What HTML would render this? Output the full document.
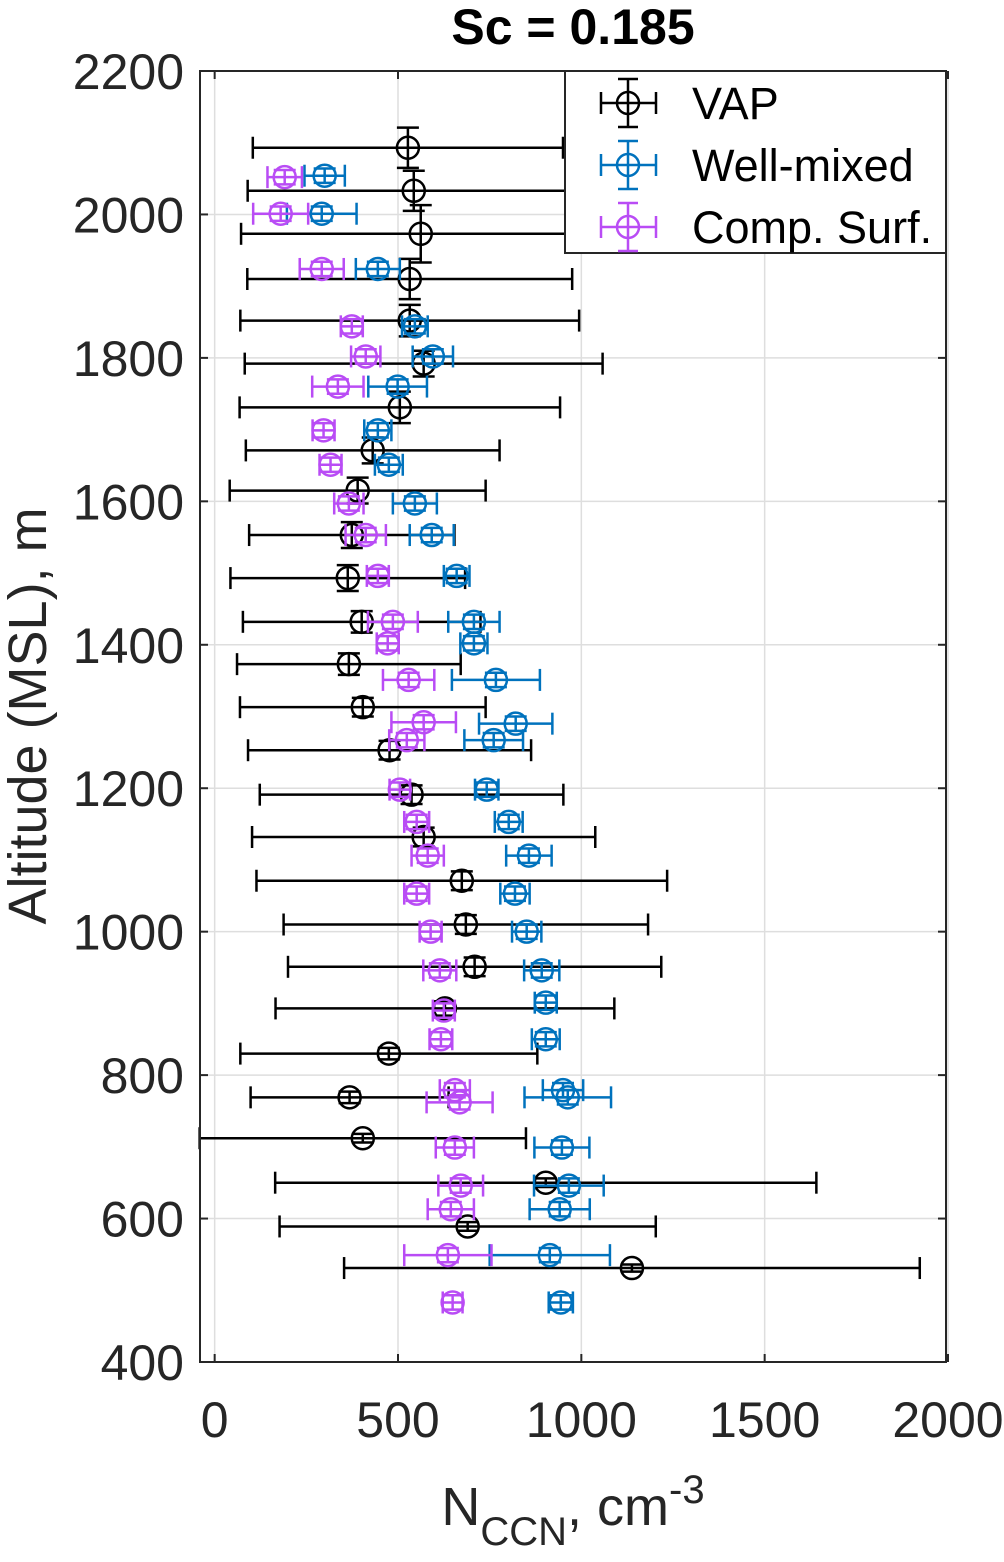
<!DOCTYPE html>
<html><head><meta charset="utf-8"><style>
body{margin:0;background:#fff}
svg text{font-family:"Liberation Sans",sans-serif;fill:#262626}
</style></head><body>
<svg id="chart" width="1004" height="1557" viewBox="0 0 1004 1557" xmlns="http://www.w3.org/2000/svg">
<rect width="1004" height="1557" fill="#fff"/>
<text x="573" y="44" text-anchor="middle" font-size="50" font-weight="bold" style="fill:#000">Sc = 0.185</text>
<g id="grid"></g>
<g id="series"></g>
<rect x="200" y="71" width="746" height="1291" fill="none" stroke="#262626" stroke-width="2"/>
<g id="ticks"></g>
<text transform="translate(46,716) rotate(-90)" text-anchor="middle" font-size="54">Altitude (MSL), m</text>
<text x="573" y="1525" text-anchor="middle" font-size="54">N<tspan font-size="40" dy="20">CCN</tspan><tspan dy="-20">, cm</tspan><tspan font-size="40" dy="-22">-3</tspan></text>
<g>
<rect x="565" y="71" width="381" height="182" fill="#fff" stroke="#262626" stroke-width="2"/>
<g id="legend-entries"></g>
</g>
</svg>
<script>
const xTicks=[0,500,1000,1500,2000];
const yTicks=[400,600,800,1000,1200,1400,1600,1800,2000,2200];
const vapAlt=[2093,2033,1973,1910,1852,1792,1731,1671,1615,1553,1493,1432,1373,1313,1253,1191,1132,1071,1010,951,893,830,769,712,650,589,531];
const vapVal=[527,543,562,532,532,570,505,431,390,374,363,401,366,404,477,537,570,674,685,709,628,475,368,404,903,690,1138];
const vapErr=[423,453,490,443,462,488,437,346,349,280,320,324,305,335,386,414,468,560,497,509,462,405,270,445,738,513,785];
const vapAltErr=[28,28,40,28,22,18,22,18,18,18,18,15,15,13,13,13,13,13,13,13,10,8,8,6,6,6,5];
const wmAlt=[2054,2001,1924,1844,1802,1760,1699,1651,1597,1553,1496,1432,1402,1351,1290,1267,1198,1153,1106,1053,1000,946,901,850,779,769,699,646,613,549,483];
const wmVal=[300,292,445,546,595,499,445,475,546,592,660,707,707,767,821,761,742,802,857,819,851,892,903,903,950,963,947,966,941,914,944];
const wmErr=[55,95,60,35,55,80,37,38,60,60,35,70,37,120,100,80,32,38,62,40,40,48,30,38,55,118,75,95,82,164,33];
const csAlt=[2052,2001,1924,1844,1802,1760,1699,1651,1597,1553,1496,1432,1402,1351,1292,1267,1198,1153,1106,1053,1000,946,890,850,779,762,699,646,613,549,483];
const csVal=[191,180,292,374,412,336,297,316,366,412,445,486,472,529,570,524,505,551,581,551,589,614,625,617,655,668,655,671,644,636,649];
const csErr=[47,75,60,30,40,70,30,30,40,55,30,68,30,70,88,48,28,34,44,34,30,45,30,31,41,90,52,61,63,119,27];
const smallAltErr=10;

const X0=200,X1=946,Y0=71,Y1=1362,XMIN=-40,XMAX=(946-215)/0.3665,YMIN=400,YMAX=2200;
function xs(v){return X0+(v-XMIN)/(XMAX-XMIN)*(X1-X0);}
function ys(v){return Y1-(v-YMIN)/(YMAX-YMIN)*(Y1-Y0);}
const NS='http://www.w3.org/2000/svg';
function mk(tag,attrs,parent){const e=document.createElementNS(NS,tag);for(const k in attrs)e.setAttribute(k,attrs[k]);parent.appendChild(e);return e;}
const grid=document.getElementById('grid'),ticks=document.getElementById('ticks');
xTicks.forEach(t=>{const x=xs(t);
 const g=mk('line',{x1:x,x2:x,y1:Y0,y2:Y1,stroke:'#dedede','stroke-width':1.5},grid);
 
 
 mk('line',{x1:x,x2:x,y1:Y1,y2:Y1-8,stroke:'#262626','stroke-width':2},ticks);
 mk('line',{x1:x,x2:x,y1:Y0,y2:Y0+8,stroke:'#262626','stroke-width':2},ticks);
 const l=mk('text',{x:x,y:1437,'text-anchor':'middle','font-size':50},ticks);l.textContent=t;
 
 
});
yTicks.forEach(t=>{const y=ys(t);
 const g=mk('line',{x1:X0,x2:X1,y1:y,y2:y,stroke:'#dedede','stroke-width':1.5},grid);
 
 
 mk('line',{x1:X0,x2:X0+8,y1:y,y2:y,stroke:'#262626','stroke-width':2},ticks);
 mk('line',{x1:X1,x2:X1-8,y1:y,y2:y,stroke:'#262626','stroke-width':2},ticks);
 const l=mk('text',{x:184,y:y+18,'text-anchor':'end','font-size':50},ticks);l.textContent=t;
 
 
});
const series=document.getElementById('series');
function drawSeries(name,alts,vals,errs,altErrs,color){
 const g=mk('g',{stroke:color,'stroke-width':2.5,fill:'none'},series);
 
 
 alts.forEach((a,i)=>{
  const y=ys(a),x=xs(vals[i]),xl=xs(vals[i]-errs[i]),xr=xs(vals[i]+errs[i]);
  const ae=Array.isArray(altErrs)?altErrs[i]:altErrs;
  const yt=ys(a+ae),yb=ys(a-ae);
  const p=mk('g',{},g);
  
  
  mk('line',{x1:xl,x2:xr,y1:y,y2:y},p);
  mk('line',{x1:xl,x2:xl,y1:y-11,y2:y+11},p);
  mk('line',{x1:xr,x2:xr,y1:y-11,y2:y+11},p);
  mk('line',{x1:x,x2:x,y1:yt,y2:yb},p);
  mk('line',{x1:x-11,x2:x+11,y1:yt,y2:yt},p);
  mk('line',{x1:x-11,x2:x+11,y1:yb,y2:yb},p);
  mk('circle',{cx:x,cy:y,r:11},p);
 });
}
drawSeries('vap',vapAlt,vapVal,vapErr,vapAltErr,'#000');
drawSeries('well-mixed',wmAlt,wmVal,wmErr,smallAltErr,'#0072BD');
drawSeries('comp-surf',csAlt,csVal,csErr,smallAltErr,'#B94CF5');
const leg=document.getElementById('legend-entries');
[['VAP','#000',103,'legend-entry-vap'],['Well-mixed','#0072BD',165,'legend-entry-well-mixed'],['Comp. Surf.','#B94CF5',227,'legend-entry-comp-surf']].forEach(d=>{
 const g=mk('g',{stroke:d[1],'stroke-width':2.5,fill:'none'},leg);
 
 
 const y=d[2];
 mk('line',{x1:601,x2:656,y1:y,y2:y},g);
 mk('line',{x1:601,x2:601,y1:y-11,y2:y+11},g);
 mk('line',{x1:656,x2:656,y1:y-11,y2:y+11},g);
 mk('line',{x1:628,x2:628,y1:y-24,y2:y+24},g);
 mk('line',{x1:618,x2:638,y1:y-24,y2:y-24},g);
 mk('line',{x1:618,x2:638,y1:y+24,y2:y+24},g);
 mk('circle',{cx:628,cy:y,r:11},g);
 const t=mk('text',{x:692,y:y+16,'font-size':45,stroke:'none'},leg);t.textContent=d[0];
 t.style.fill='#000';
 
 
});
</script>
</body></html>
